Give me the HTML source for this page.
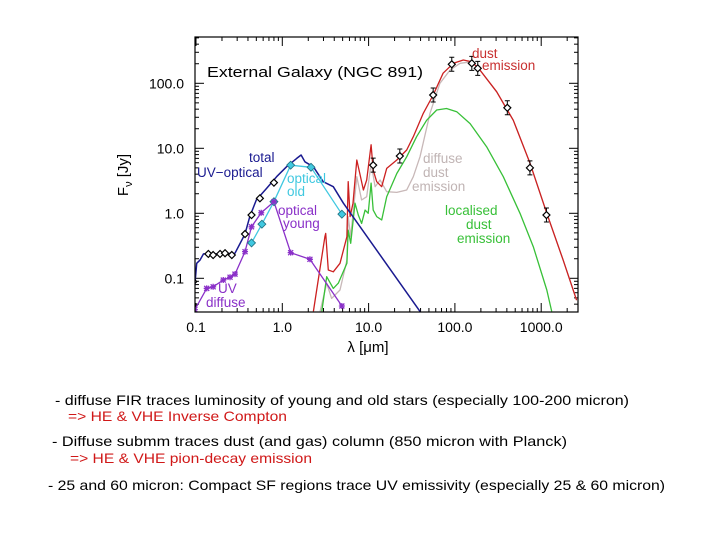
<!DOCTYPE html>
<html><head><meta charset="utf-8"><style>
html,body{margin:0;padding:0;background:#fff;}
svg{display:block;font-family:"Liberation Sans","DejaVu Sans",sans-serif;}
</style></head><body>
<svg id="chart" width="720" height="540" viewBox="0 0 720 540" xmlns="http://www.w3.org/2000/svg">
<defs><clipPath id="pc"><rect x="195" y="37" width="383" height="275"/></clipPath></defs>
<rect x="0" y="0" width="720" height="540" fill="#fff"/>
<g id="ticks"></g>
<g id="series" clip-path="url(#pc)"></g>
<rect x="195" y="37" width="383" height="275" fill="none" stroke="#000" stroke-width="1.2"/>
<text x="207" y="77" font-size="15" fill="#000" textLength="216" lengthAdjust="spacingAndGlyphs">External Galaxy (NGC 891)</text>
<g id="xlabels" font-size="14" fill="#000" text-anchor="middle"></g>
<g id="ylabels" font-size="14" fill="#000" text-anchor="end"></g>
<text x="368" y="352" font-size="15" text-anchor="middle">λ [μm]</text>
<text transform="translate(128,175) rotate(-90)" font-size="15" text-anchor="middle">F<tspan font-size="11" dy="4">ν</tspan><tspan dy="-4"> [Jy]</tspan></text>
<g font-size="13.5">
<text x="249" y="162" fill="#1a1a90">total</text>
<text x="197" y="177" fill="#1a1a90">UV−optical</text>
<text x="287" y="183" fill="#40c8e0">optical</text>
<text x="287" y="196" fill="#40c8e0">old</text>
<text x="278" y="215" fill="#8a30c8">optical</text>
<text x="283" y="228" fill="#8a30c8">young</text>
<text x="218" y="293" fill="#8a30c8">UV</text>
<text x="206" y="307" fill="#8a30c8">diffuse</text>
<text x="472" y="58" fill="#c83030">dust</text>
<text x="482" y="70" fill="#c83030">emission</text>
<text x="423" y="163" fill="#c0b4b4">diffuse</text>
<text x="423" y="177" fill="#c0b4b4">dust</text>
<text x="412" y="191" fill="#c0b4b4">emission</text>
<text x="445" y="215" fill="#38c038">localised</text>
<text x="466" y="229" fill="#38c038">dust</text>
<text x="457" y="243" fill="#38c038">emission</text>
</g>
<g font-size="14">
<text x="55" y="405" textLength="574" lengthAdjust="spacingAndGlyphs">- diffuse FIR traces luminosity of young and old stars (especially 100-200 micron)</text>
<text x="68" y="421" fill="#d01818" textLength="219" lengthAdjust="spacingAndGlyphs">=&gt; HE &amp; VHE Inverse Compton</text>
<text x="52" y="446" textLength="515" lengthAdjust="spacingAndGlyphs">- Diffuse submm traces dust (and gas) column  (850 micron with Planck)</text>
<text x="70" y="463" fill="#d01818" textLength="242" lengthAdjust="spacingAndGlyphs">=&gt; HE &amp; VHE pion-decay emission</text>
<text x="48" y="490" textLength="617" lengthAdjust="spacingAndGlyphs">- 25 and 60 micron: Compact SF regions trace UV emissivity (especially 25 &amp; 60 micron)</text>
</g>
</svg>
<script>
const xTicks=[0.1,1,10,100,1000];
const xTickLabels=["0.1","1.0","10.0","100.0","1000.0"];
const yTicks=[0.1,1,10,100];
const yTickLabels=["0.1","1.0","10.0","100.0"];
const obsLam=[0.093,0.139,0.158,0.19,0.217,0.26,0.37,0.44,0.55,0.80,11.3,23,56,92,157,184,405,740,1150];
const obsFlux=[0.089,0.237,0.228,0.237,0.243,0.228,0.48,0.94,1.70,2.96,5.5,7.6,66,196,203,170,42,5.0,0.94];
const oldLam=[0.44,0.58,0.80,1.25,2.15,4.9];
const oldFlux=[0.35,0.68,1.51,5.5,5.1,0.97];
const youngLam=[0.097,0.133,0.158,0.207,0.248,0.283,0.37,0.44,0.57,0.80,1.25,2.09,4.9];
const youngFlux=[0.033,0.070,0.074,0.094,0.104,0.116,0.257,0.62,1.02,1.51,0.248,0.196,0.0375];
const totLam=[0.093,0.102,0.111,0.122,0.19,0.283,0.37,0.42,0.50,0.66,0.86,1.12,1.47,1.65,1.83,2.29,2.98,3.9,5.1,39.4];
const totFlux=[0.041,0.17,0.19,0.237,0.237,0.243,0.48,0.89,1.6,2.43,3.66,5.2,7.0,7.9,6.2,5.2,3.06,2.57,1.43,0.031];
const redLam=[2.29,3.12,3.18,3.41,3.9,4.66,5.6,5.8,6.1,6.6,7.3,7.9,8.7,9.5,10.7,11.3,12.4,14.2,16.2,21.2,27.6,33,43,56,73,96,125,157,195,305,475,741,1160,1800,2570];
const redFlux=[0.031,0.437,0.49,0.134,0.126,0.17,0.437,3.06,0.89,1.43,6.6,4.1,2.28,3.25,11.3,4.6,3.06,2.57,4.9,6.6,9.4,15.1,34.5,66,143,203,228,215,160,74,27,5.9,1.0,0.19,0.046];
const greenLam=[2.87,3.27,3.9,4.46,5.6,5.8,6.2,6.95,7.6,8.3,9.1,9.9,10.7,11.3,12.4,14.2,16.2,21.2,27.6,36,47,61.5,80,105,150,233,364,568,811,1160,1325];
const greenFlux=[0.031,0.106,0.070,0.084,0.17,0.55,0.345,1.43,0.94,0.70,1.12,1.0,2.9,1.12,0.89,0.79,1.8,4.1,7.4,15.1,27,38.8,41,36.6,24,10.6,3.66,1.0,0.306,0.066,0.031];
const grayLam=[2.74,3.27,3.73,4.66,5.6,5.8,6.2,7.3,8.3,9.5,10.7,11.9,13.6,16.2,21.2,27.6,33,39.4,51.5,67,88,115,157,195,305,475,741,1160,1800,2570];
const grayFlux=[0.031,0.084,0.049,0.066,0.19,0.89,0.437,3.66,1.6,1.8,5.9,2.57,3.25,2.15,2.1,2.28,3.66,7.4,34.5,100,160,203,215,160,74,27,5.9,1.0,0.19,0.046];

const NS='http://www.w3.org/2000/svg';
function sx(l){return 196+86.3*(Math.log10(l)+1);}
function sy(f){return 213.3-65*Math.log10(f);}
function mk(tag,attrs,parent){const e=document.createElementNS(NS,tag);for(const k in attrs)e.setAttribute(k,attrs[k]);parent.appendChild(e);return e;}
const ser=document.getElementById('series'),tk=document.getElementById('ticks');
const xl=document.getElementById('xlabels'),yl=document.getElementById('ylabels');

for(let d=-1;d<=3;d++){for(let m=1;m<=9;m++){const v=m*Math.pow(10,d);const x=sx(v);if(x<195||x>578)continue;const len=m===1?9:4;
 let t=mk('line',{x1:x,y1:312,x2:x,y2:312-len,stroke:'#000','stroke-width':1},tk);
 
 
 t=mk('line',{x1:x,y1:37,x2:x,y2:37+len,stroke:'#000','stroke-width':1},tk);
 
 }}
for(let d=-2;d<=2;d++){for(let m=1;m<=9;m++){const v=m*Math.pow(10,d);const y=sy(v);if(y<37||y>312)continue;const len=m===1?9:4;
 let t=mk('line',{x1:195,y1:y,x2:195+len,y2:y,stroke:'#000','stroke-width':1},tk);
 
 
 t=mk('line',{x1:578,y1:y,x2:578-len,y2:y,stroke:'#000','stroke-width':1},tk);
 
 }}
xTicks.forEach((v,i)=>{const t=mk('text',{x:sx(v),y:332},xl);t.textContent=xTickLabels[i];
 
 });
yTicks.forEach((v,i)=>{const t=mk('text',{x:184,y:sy(v)+5},yl);t.textContent=yTickLabels[i];
 
 });

function line(L,F,color,name,w){const p=mk('polyline',{points:L.map((l,i)=>sx(l).toFixed(1)+','+sy(F[i]).toFixed(1)).join(' '),fill:'none',stroke:color,'stroke-width':w||1.3,'stroke-linejoin':'round'},ser);
 
 }
line(grayLam,grayFlux,'#c8b8b8','diffuse-dust-line');
line(greenLam,greenFlux,'#38c038','localised-dust-line');
line(redLam,redFlux,'#cc2020','dust-emission-line');
line(totLam,totFlux,'#1a1a90','total-uv-optical-line',1.5);
line(oldLam,oldFlux,'#40c8e0','optical-old-line');
line(youngLam,youngFlux,'#8a30c8','optical-young-line');

oldLam.forEach((l,i)=>{const x=sx(l),y=sy(oldFlux[i]);const d=mk('path',{d:`M${x},${y-4}L${x+4},${y}L${x},${y+4}L${x-4},${y}Z`,fill:'#40c8e0',stroke:'#207080','stroke-width':0.8},ser);
 
 });
youngLam.forEach((l,i)=>{const x=sx(l),y=sy(youngFlux[i]);const s=mk('path',{d:`M${x-3},${y}H${x+3}M${x},${y-3}V${y+3}M${x-2.5},${y-2.5}L${x+2.5},${y+2.5}M${x-2.5},${y+2.5}L${x+2.5},${y-2.5}`,stroke:'#8a30c8','stroke-width':1.3},ser);
 
 });
obsLam.forEach((l,i)=>{const x=sx(l),y=sy(obsFlux[i]);
 if(l>10){const e=mk('path',{d:`M${x},${y-7}V${y+7}M${x-2.5},${y-7}H${x+2.5}M${x-2.5},${y+7}H${x+2.5}`,stroke:'#000','stroke-width':1},ser);
 
 }
 const d=mk('path',{d:`M${x},${y-3.5}L${x+3.5},${y}L${x},${y+3.5}L${x-3.5},${y}Z`,fill:'#fff',stroke:'#000','stroke-width':1.2},ser);
 
 });
</script>
</body></html>
